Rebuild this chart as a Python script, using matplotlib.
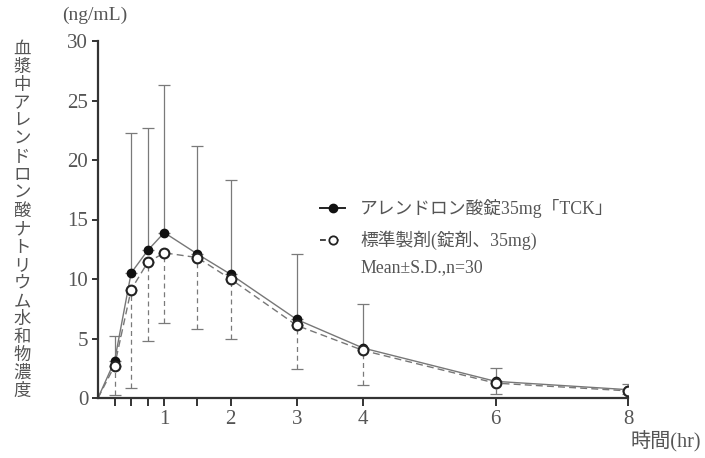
import numpy as np
import matplotlib.pyplot as plt
from matplotlib.lines import Line2D

plt.rcParams['font.family'] = ['Liberation Serif', 'Noto Sans CJK JP', 'DejaVu Sans']

# time points (hr)
time_hr = [0, 0.25, 0.5, 0.75, 1, 1.5, 2, 3, 4, 6, 8]

# test drug (filled) mean and upper S.D.
test_mean = [0, 3.1, 10.5, 12.4, 13.9, 12.1, 10.4, 6.6, 4.2, 1.4, 0.7]
test_upper = [0, 5.2, 22.3, 22.7, 26.3, 21.2, 18.3, 12.1, 7.9, 2.5, 1.15]

# reference drug (open) mean and lower S.D.
ref_mean = [0, 2.7, 9.1, 11.4, 12.2, 11.8, 10.0, 6.1, 4.0, 1.25, 0.6]
ref_lower = [0, 0.25, 0.8, 4.8, 6.3, 5.8, 5.0, 2.45, 1.1, 0.35, 0.35]

tick_pos = [0.25, 0.5, 0.75, 1, 1.5, 2, 3, 4, 6, 8]
tick_lbl = ['', '', '', '1', '', '2', '3', '4', '6', '8']
ylabel_text = '血漿中アレンドロン酸ナトリウム水和物濃度'
legend_labels = ['アレンドロン酸錠35mg「TCK」', '標準製剤(錠剤、35mg)', 'Mean±S.D.,n=30']

txt_col = '#555555'
line_col = '#777777'
mixed = ['Liberation Serif', 'Noto Sans CJK JP', 'DejaVu Sans']

fig = plt.figure(figsize=(7.05, 4.58), dpi=100)
ax = fig.add_axes([98/705, 60/458, 530/705, 357/458])

t = np.array(time_hr[1:])
tm = np.array(test_mean[1:])
tu = np.array(test_upper[1:])
rm = np.array(ref_mean[1:])
rl = np.array(ref_lower[1:])

# error bars
ax.errorbar(t, tm, yerr=[np.zeros_like(tm), tu - tm], fmt='none',
            ecolor='#7a7a7a', elinewidth=0.9, capsize=4, capthick=0.9, zorder=1)
eb = ax.errorbar(t, rm, yerr=[rm - rl, np.zeros_like(rm)], fmt='none',
                 ecolor='#7a7a7a', elinewidth=0.9, capsize=4, capthick=0.9, zorder=1)
for c in eb[2]:
    c.set_linestyle((0, (4, 3)))

# mean lines
ax.plot(time_hr, test_mean, color=line_col, lw=1.0, zorder=2)
ax.plot(time_hr, ref_mean, color=line_col, lw=1.0, ls=(0, (5, 3)), zorder=2)
ax.plot(t, tm, 'o', ms=6, mfc='#111111', mec='#111111', zorder=3)
ax.plot(t, rm, 'o', ms=7, mfc='white', mec='#222222', mew=1.5, zorder=4)

ax.set_xlim(0, 8)
ax.set_ylim(0, 30)
ax.set_xticks(tick_pos)
ax.set_xticklabels(tick_lbl)
ax.set_yticks([0, 5, 10, 15, 20, 25, 30])
for s in ['top', 'right']:
    ax.spines[s].set_visible(False)
for s in ['left', 'bottom']:
    ax.spines[s].set_linewidth(1.6)
    ax.spines[s].set_color('#333333')
ax.tick_params(axis='y', direction='out', length=4, width=1.4, color='#333333',
               labelsize=15, labelcolor=txt_col, pad=3)
ax.tick_params(axis='x', direction='out', length=6, width=1.4, color='#333333',
               labelsize=15, labelcolor=txt_col, pad=3)

fig.text(62/705, 1 - 15/458, '(ng/mL)', fontsize=14, color=txt_col, va='center')
fig.text(22/705, 1 - 220/458, '\n'.join(ylabel_text), fontsize=12.5, color=txt_col,
         ha='center', va='center', linespacing=1.0,
         family=['Noto Sans CJK JP', 'DejaVu Sans'])
fig.text(701/705, 1 - 442/458, '時間(hr)', fontsize=14.5, color=txt_col, va='center',
         ha='right', family=mixed)

# legend drawn by hand
leg_y = [208, 240, 268]
ax_leg = fig.add_axes([0, 0, 1, 1], facecolor='none')
ax_leg.set_xlim(0, 705)
ax_leg.set_ylim(458, 0)
ax_leg.axis('off')
ax_leg.add_line(Line2D([320, 345], [leg_y[0]] * 2, color='#222222', lw=1.4))
ax_leg.plot([332.5], [leg_y[0]], 'o', ms=6, mfc='#111111', mec='#111111')
ax_leg.add_line(Line2D([320, 345], [leg_y[1]] * 2, color='#444444', lw=1.4, ls=(0, (3, 3.5))))
ax_leg.plot([332.5], [leg_y[1]], 'o', ms=6, mfc='white', mec='#222222', mew=1.3)
for yy, lab in zip(leg_y, legend_labels):
    ax_leg.text(360, yy, lab, fontsize=12.8, color=txt_col, va='center', family=mixed)

fig.savefig('out.png', dpi=100)
